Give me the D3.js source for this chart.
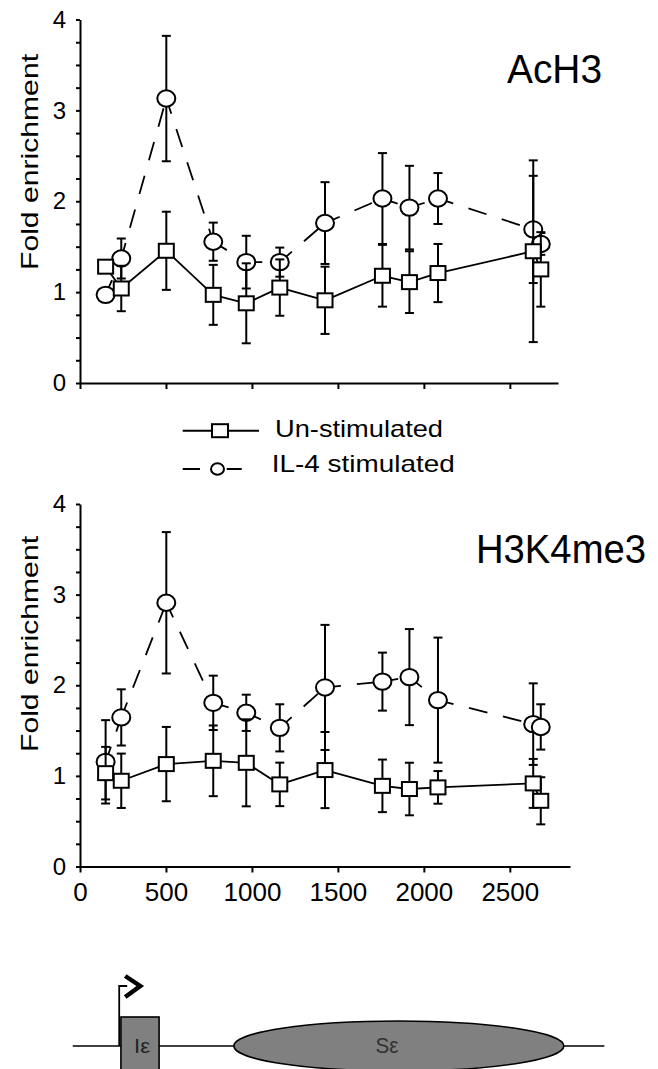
<!DOCTYPE html>
<html>
<head>
<meta charset="utf-8">
<script src="https://cdn.jsdelivr.net/npm/d3@7"></script>
<style>
  html, body { margin: 0; padding: 0; background: #fff; }
  svg { display: block; }
  text { font-family: "Liberation Sans", Arial, Helvetica, sans-serif; fill: #000; }
</style>
</head>
<body>
<svg id="chart" width="658" height="1069"></svg>
<script>
// ---------------- data ----------------
const positions = [149, 240, 502, 775, 967, 1162, 1425, 1759, 1916, 2082, 2636, 2680];

const acUn     = [1.28, 1.04, 1.455, 0.97, 0.877, 1.05, 0.91, 1.18, 1.11, 1.21, 1.45, 1.25];
const acUnErr  = [0, 0.25, 0.43, 0.33, 0.44, 0.31, 0.37, 0.34, 0.34, 0.32, 1.0, 0.41];
const acIl     = [0.97, 1.37, 3.13, 1.555, 1.33, 1.33, 1.76, 2.03, 1.93, 2.03, 1.69, 1.53];
const acIlErr  = [0, 0.22, 0.69, 0.21, 0.29, 0.16, 0.45, 0.5, 0.46, 0.28, 0.59, 0.12];

const k4Un     = [1.03, 0.946, 1.13, 1.166, 1.144, 0.906, 1.064, 0.89, 0.855, 0.873, 0.917, 0.725];
const k4UnErr  = [0.29, 0.3, 0.41, 0.39, 0.48, 0.24, 0.42, 0.29, 0.29, 0.18, 0.27, 0.26];
const k4Il     = [1.155, 1.645, 2.91, 1.806, 1.696, 1.53, 1.976, 2.04, 2.09, 1.836, 1.571, 1.54];
const k4IlErr  = [0.46, 0.31, 0.78, 0.30, 0.2, 0.26, 0.69, 0.32, 0.53, 0.69, 0.45, 0.25];

const xTicks = [0, 500, 1000, 1500, 2000, 2500];
const yTicks = d3.range(0, 4.001, 0.25);
const seriesNames = ["Un-stimulated", "IL-4 stimulated"];
const panelTitles = ["AcH3", "H3K4me3"];
const yLabel = "Fold enrichment";

// gene map features in bp (drawn on the bottom x scale)
const geneLine = [-42, 3050];
const iEpsilon = [238, 460];
const sEpsilon = [895, 2814];
const tss = 228;

// ---------------- drawing ----------------
const svg = d3.select("#chart");
svg.append("rect").attr("width", 658).attr("height", 1069).attr("fill", "#fff");

function drawPanel(opt) {
  const x = d3.scaleLinear().domain([0, opt.xMax]).range([80, opt.xEnd]);
  const y = d3.scaleLinear().domain([0, 4]).range([opt.y0, opt.y4]);
  const g = svg.append("g");

  // y axis
  const ya = g.append("g").attr("transform", "translate(80,0)")
    .call(d3.axisLeft(y).tickValues(yTicks)
      .tickFormat(d => Number.isInteger(d) ? d : "")
      .tickSize(4).tickSizeOuter(0).tickPadding(10));
  // x axis
  const xa = g.append("g").attr("transform", `translate(0,${opt.y0})`)
    .call(d3.axisBottom(x).tickValues(xTicks)
      .tickFormat(opt.xLabels ? d => d : "")
      .tickSize(6).tickSizeOuter(0).tickPadding(10));
  [ya, xa].forEach(a => {
    a.select(".domain").attr("stroke", "#000").attr("stroke-width", 2);
    a.selectAll(".tick line").attr("stroke", "#000").attr("stroke-width", 2);
  });
  ya.selectAll(".tick text").attr("font-size", 24).attr("font-family", "Liberation Sans, Arial");
  xa.selectAll(".tick text").attr("font-size", 26).attr("font-family", "Liberation Sans, Arial");

  // y label
  g.append("text")
    .attr("transform", `translate(37.5,${opt.labelCy}) rotate(-90)`)
    .attr("text-anchor", "middle")
    .attr("font-size", 24)
    .attr("textLength", 216).attr("lengthAdjust", "spacingAndGlyphs")
    .text(yLabel);

  // title
  g.append("text")
    .attr("x", opt.titleX).attr("y", opt.titleY)
    .attr("font-size", 40)
    .attr("textLength", opt.titleW).attr("lengthAdjust", "spacingAndGlyphs")
    .text(opt.title);

  const il = positions.map((p, i) => ({ x: x(p), y: y(opt.il[i]), v: opt.il[i], e: opt.ilErr[i] }));
  const un = positions.map((p, i) => ({ x: x(p), y: y(opt.un[i]), v: opt.un[i], e: opt.unErr[i] }));

  function segments(pts, dashed) {
    for (let i = 0; i < pts.length - 1; i++) {
      g.append("line")
        .attr("x1", pts[i].x).attr("y1", pts[i].y)
        .attr("x2", pts[i + 1].x).attr("y2", pts[i + 1].y)
        .attr("stroke", "#000").attr("stroke-width", 1.8)
        .attr("stroke-dasharray", dashed ? "19,16" : null)
        .attr("stroke-dashoffset", dashed ? 3 : null);
    }
  }
  function errorBars(pts) {
    pts.filter(d => d.e > 0).forEach(d => {
      const top = y(d.v + d.e), bot = y(d.v - d.e);
      g.append("line").attr("x1", d.x).attr("x2", d.x).attr("y1", top).attr("y2", bot)
        .attr("stroke", "#000").attr("stroke-width", 2);
      [top, bot].forEach(yy => g.append("line")
        .attr("x1", d.x - 4.5).attr("x2", d.x + 4.5).attr("y1", yy).attr("y2", yy)
        .attr("stroke", "#000").attr("stroke-width", 2));
    });
  }
  segments(il, true);
  errorBars(il);
  il.forEach(d => g.append("ellipse").attr("cx", d.x).attr("cy", d.y)
    .attr("rx", 9).attr("ry", 8.2).attr("fill", "#fff").attr("stroke", "#000").attr("stroke-width", 2));
  segments(un, false);
  errorBars(un);
  un.forEach(d => g.append("rect").attr("x", d.x - 7.5).attr("y", d.y - 7)
    .attr("width", 15).attr("height", 14).attr("fill", "#fff").attr("stroke", "#000").attr("stroke-width", 2));
  return x;
}

drawPanel({ xMax: 2780, xEnd: 558, y0: 383, y4: 19.5, xLabels: false,
  un: acUn, unErr: acUnErr, il: acIl, ilErr: acIlErr,
  title: panelTitles[0], titleX: 507, titleY: 82.5, titleW: 95, labelCy: 162 });

const xb = drawPanel({ xMax: 2850, xEnd: 570, y0: 866.5, y4: 504, xLabels: true,
  un: k4Un, unErr: k4UnErr, il: k4Il, ilErr: k4IlErr,
  title: panelTitles[1], titleX: 476, titleY: 562.5, titleW: 170, labelCy: 644 });

// ---------------- legend ----------------
const lg = svg.append("g");
lg.append("line").attr("x1", 182.7).attr("x2", 259).attr("y1", 430.7).attr("y2", 430.7)
  .attr("stroke", "#000").attr("stroke-width", 2);
lg.append("rect").attr("x", 212).attr("y", 424.2).attr("width", 16).attr("height", 13)
  .attr("fill", "#fff").attr("stroke", "#000").attr("stroke-width", 2);
lg.append("text").attr("x", 275).attr("y", 436.7).attr("font-size", 24)
  .attr("textLength", 168).attr("lengthAdjust", "spacingAndGlyphs").text(seriesNames[0]);
[[182.7, 200], [226.7, 241.7]].forEach(s => lg.append("line")
  .attr("x1", s[0]).attr("x2", s[1]).attr("y1", 469).attr("y2", 469)
  .attr("stroke", "#000").attr("stroke-width", 2));
lg.append("ellipse").attr("cx", 217.5).attr("cy", 469).attr("rx", 6.5).attr("ry", 5.8)
  .attr("fill", "#fff").attr("stroke", "#000").attr("stroke-width", 2);
lg.append("text").attr("x", 271.7).attr("y", 471.5).attr("font-size", 24)
  .attr("textLength", 183).attr("lengthAdjust", "spacingAndGlyphs").text(seriesNames[1]);

// ---------------- gene map ----------------
const gm = svg.append("g");
const gy = 1046;
gm.append("line").attr("x1", xb(geneLine[0])).attr("x2", xb(geneLine[1]))
  .attr("y1", gy).attr("y2", gy).attr("stroke", "#000").attr("stroke-width", 1.6);
gm.append("ellipse")
  .attr("cx", (xb(sEpsilon[0]) + xb(sEpsilon[1])) / 2).attr("cy", gy)
  .attr("rx", (xb(sEpsilon[1]) - xb(sEpsilon[0])) / 2).attr("ry", 25)
  .attr("fill", "#808080").attr("stroke", "#000").attr("stroke-width", 1.6);
gm.append("rect").attr("x", xb(iEpsilon[0])).attr("y", 1017)
  .attr("width", xb(iEpsilon[1]) - xb(iEpsilon[0])).attr("height", 70)
  .attr("fill", "#808080").attr("stroke", "#000").attr("stroke-width", 1.6);
// promoter arrow
const tx = xb(tss);
gm.append("path").attr("d", `M${tx},${gy} V986 H${tx + 8}`)
  .attr("fill", "none").attr("stroke", "#000").attr("stroke-width", 1.8);
gm.append("path").attr("d", `M${tx + 6},976 L${tx + 21},986 L${tx + 6},997`)
  .attr("fill", "none").attr("stroke", "#000").attr("stroke-width", 4.5)
  .attr("stroke-linejoin", "miter");
gm.append("text").attr("x", (xb(iEpsilon[0]) + xb(iEpsilon[1])) / 2 + 2).attr("y", 1052.5)
  .attr("text-anchor", "middle").attr("font-size", 21).style("fill", "#222")
  .attr("textLength", 16).attr("lengthAdjust", "spacingAndGlyphs").text("Iε");
gm.append("text").attr("x", 387).attr("y", 1053)
  .attr("text-anchor", "middle").attr("font-size", 22).style("fill", "#333")
  .attr("textLength", 23).attr("lengthAdjust", "spacingAndGlyphs").text("Sε");
</script>
</body>
</html>
